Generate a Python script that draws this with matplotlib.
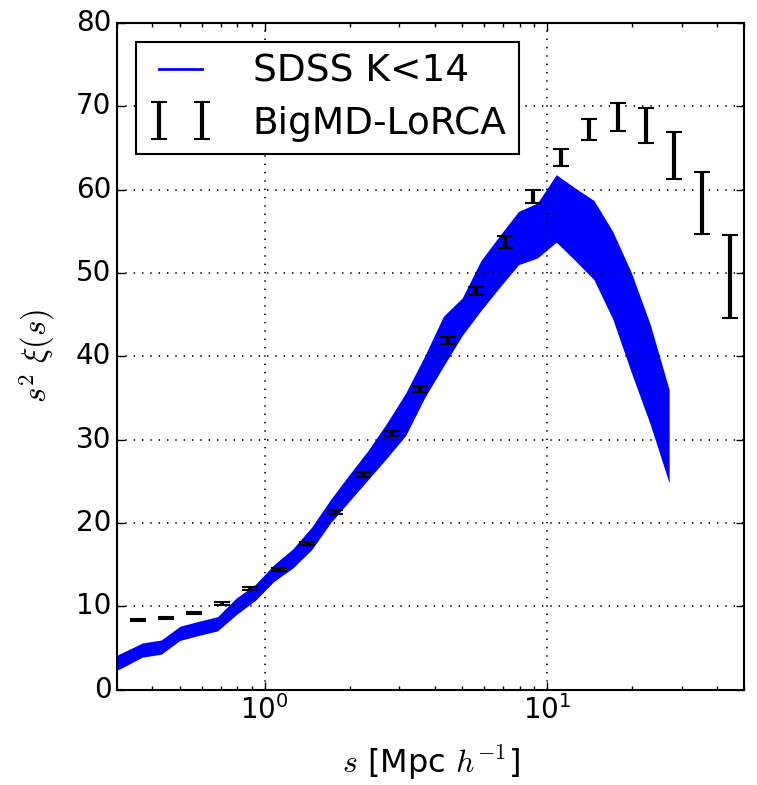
import matplotlib
matplotlib.use("Agg")
import numpy as np
import matplotlib.pyplot as plt

# SDSS K<14 band: separation nodes and upper / lower edges
sdss_s = [0.270, 0.316, 0.369, 0.430, 0.501, 0.584, 0.681, 0.794, 0.926, 1.080,
          1.259, 1.468, 1.711, 1.995, 2.326, 2.712, 3.162, 3.687, 4.299, 5.012,
          5.843, 6.813, 7.943, 9.261, 10.80, 12.59, 14.68, 17.11, 19.95, 23.26,
          27.12]
sdss_hi = [3.4, 4.5, 5.6, 5.95, 7.6, 8.2, 8.75, 11.0, 12.6, 15.0,
           16.9, 19.5, 22.8, 25.8, 28.7, 32.0, 35.6, 40.0, 44.8, 47.0,
           51.5, 54.5, 57.4, 58.4, 61.8, 60.2, 58.7, 55.0, 50.0, 43.8,
           36.0]
sdss_lo = [1.6, 2.7, 3.9, 4.25, 5.9, 6.5, 7.05, 9.0, 10.7, 13.0,
           14.6, 16.8, 20.0, 22.6, 25.2, 27.8, 30.5, 35.0, 38.8, 42.5,
           45.5, 48.3, 51.0, 51.8, 53.7, 51.5, 49.2, 44.5, 38.0, 31.8,
           24.8]

# BigMD-LoRCA mock
mock_s = [0.355, 0.447, 0.562, 0.708, 0.891, 1.12, 1.41, 1.78, 2.24, 2.82, 3.55,
          4.47, 5.62, 7.08, 8.91, 11.2, 14.1, 17.8, 22.4, 28.2, 35.5, 44.7]
mock_xi = [8.32, 8.56, 9.16, 10.36, 12.08, 14.44, 17.5, 21.3, 25.76, 30.77, 36.09,
           41.89, 47.85, 53.7, 59.2, 63.86, 67.2, 68.7, 67.7, 64.1, 58.4, 49.6]
mock_err = [0.12, 0.12, 0.12, 0.15, 0.18, 0.2, 0.2, 0.25, 0.3, 0.3, 0.35,
            0.45, 0.5, 0.7, 0.8, 1.04, 1.26, 1.66, 2.1, 2.8, 3.7, 5.0]

plt.style.use("classic")
plt.rcParams["figure.facecolor"] = "white"
plt.rcParams["savefig.facecolor"] = "white"

fig = plt.figure(figsize=(7.57, 7.85), dpi=100)
ax = fig.add_axes([0.1546, 0.1215, 0.8284, 0.8492])

ax.fill_between(sdss_s, sdss_lo, sdss_hi, color="b", lw=0)
ax.plot([], [], color="b", lw=2, label="SDSS K<14")
ax.errorbar(mock_s, mock_xi, yerr=mock_err, fmt="none", ecolor="k",
            elinewidth=3, capsize=5.5, capthick=1.5, label="BigMD-LoRCA")

ax.set_xscale("log")
ax.set_xlim(0.3, 50)
ax.set_ylim(0, 80)
ax.grid(True, which="major", color="k", linestyle=(0, (1, 5)), lw=1.2)

ax.tick_params(which="major", length=6, width=1, labelsize=20)
ax.tick_params(which="minor", length=3, width=1)
for sp in ax.spines.values():
    sp.set_linewidth(1.5)

ax.set_xlabel(r"$s$ [Mpc $h^{-1}$]", fontsize=23, labelpad=13)
ax.set_ylabel(r"$s^2\ \xi(s)$", fontsize=23.5, labelpad=14)

leg = ax.legend(loc="upper left", numpoints=2, fontsize=27, handlelength=1.75,
                handletextpad=1.05, borderpad=0.32, labelspacing=0.42,
                borderaxespad=0.5)
leg.get_frame().set_linewidth(1.5)

fig.savefig("out.png", dpi=100)
